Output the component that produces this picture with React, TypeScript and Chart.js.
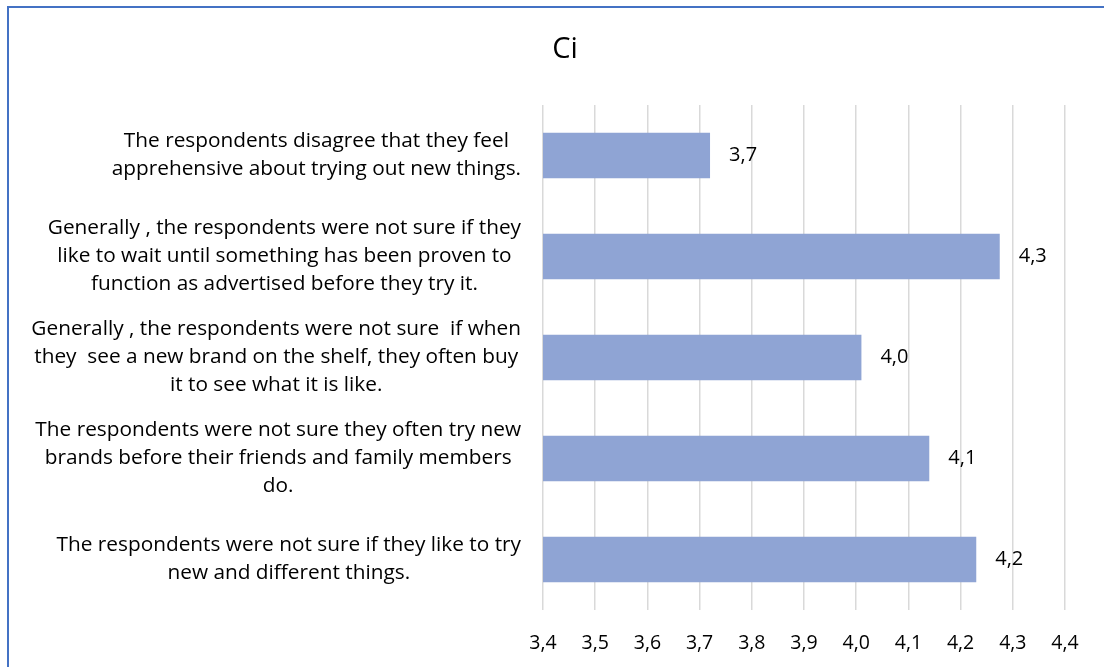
import React, { useEffect, useRef } from "react";
import { Chart, registerables } from "chart.js";

Chart.register(...registerables);

// Survey statements (top to bottom), pre-wrapped the way they are displayed
const categories: string[][] = [
  ["The respondents disagree that they feel", "apprehensive about trying out new things."],
  [
    "Generally , the respondents were not sure if they",
    "like to wait until something has been proven to",
    "function as advertised before they try it.",
  ],
  [
    "Generally , the respondents were not sure  if when",
    "they  see a new brand on the shelf, they often buy",
    "it to see what it is like.",
  ],
  [
    "The respondents were not sure they often try new",
    "brands before their friends and family members",
    "do.",
  ],
  ["The respondents were not sure if they like to try", "new and different things."],
];

// Mean agreement score per statement
const meanScores: number[] = [3.72, 4.275, 4.01, 4.14, 4.23];

// Value axis tick labels (decimal comma)
const xTickLabels: string[] = ["3,4", "3,5", "3,6", "3,7", "3,8", "3,9", "4,0", "4,1", "4,2", "4,3", "4,4"];

const chartTitle = "Ci";

const FONT = "'Open Sans', 'Noto Sans', sans-serif";
const CANVAS_W = 1112;
const CANVAS_H = 680;
const SIDE_PAD = 56;

const fmt = (v: number) => v.toFixed(1).replace(".", ",");

// Draws the wrapped statement labels, each block centred on its widest line
const statementLabels = {
  id: "statementLabels",
  afterDraw(chart: any) {
    const yScale = chart.scales.y;
    const ctx = chart.ctx;
    const rightX = chart.chartArea.left - 22;
    const lineH = 28;
    ctx.save();
    ctx.font = `20.8px ${FONT}`;
    ctx.fillStyle = "#000000";
    ctx.textAlign = "center";
    ctx.textBaseline = "middle";
    categories.forEach((lines, i) => {
      const cy = yScale.getPixelForValue(i);
      const widest = Math.max(...lines.map((l) => ctx.measureText(l).width));
      const cx = rightX - widest / 2;
      const y0 = cy - ((lines.length - 1) * lineH) / 2;
      lines.forEach((l, j) => ctx.fillText(l, cx, y0 + j * lineH));
    });
    ctx.restore();
  },
};

// Value labels to the right of each bar
const valueLabels = {
  id: "valueLabels",
  afterDatasetsDraw(chart: any) {
    const ctx = chart.ctx;
    const meta = chart.getDatasetMeta(0);
    ctx.save();
    ctx.font = `20px ${FONT}`;
    ctx.fillStyle = "#000000";
    ctx.textAlign = "left";
    ctx.textBaseline = "middle";
    meta.data.forEach((bar: any, i: number) => {
      ctx.fillText(fmt(meanScores[i]), bar.x + 19, bar.y);
    });
    ctx.restore();
  },
};

export default function App() {
  const canvasRef = useRef<HTMLCanvasElement | null>(null);

  useEffect(() => {
    const canvas = canvasRef.current;
    if (!canvas) return;
    const chart = new Chart(canvas, {
      type: "bar",
      data: {
        labels: categories.map((c) => c.join(" ")),
        datasets: [
          {
            data: meanScores,
            backgroundColor: "#8FA4D4",
            borderWidth: 0,
            categoryPercentage: 1,
            barPercentage: 0.45,
          },
        ],
      },
      options: {
        indexAxis: "y",
        responsive: false,
        animation: false,
        devicePixelRatio: 1,
        layout: { padding: { left: SIDE_PAD, right: SIDE_PAD, top: 0, bottom: 0 } },
        plugins: {
          legend: { display: false },
          tooltip: { enabled: false },
          title: {
            display: true,
            text: chartTitle,
            color: "#000000",
            font: { family: FONT, size: 29, weight: "normal" },
            padding: { top: 24.6, bottom: 37.6 },
          },
        },
        scales: {
          x: {
            type: "linear",
            min: 3.4,
            max: 4.4,
            afterFit: (s: any) => {
              s.height = 78;
            },
            afterBuildTicks: (s: any) => {
              s.ticks = xTickLabels.map((_, i) => ({ value: 3.4 + i * 0.1 }));
            },
            ticks: {
              padding: 22,
              color: "#000000",
              font: { family: FONT, size: 19.5 },
              maxRotation: 0,
              autoSkip: false,
              callback: (_v: any, i: number) => xTickLabels[i],
            },
            grid: { color: "#D9D9D9", lineWidth: 1.5, drawTicks: false },
            border: { display: false },
          },
          y: {
            afterFit: (s: any) => {
              s.width = 534 - SIDE_PAD;
            },
            ticks: { display: false },
            grid: { display: false, drawTicks: false },
            border: { display: false },
          },
        },
      },
      plugins: [statementLabels, valueLabels],
    });
    return () => chart.destroy();
  }, []);

  return (
    <div
      style={{
        position: "fixed",
        left: 0,
        top: 0,
        width: 1104,
        height: 667,
        overflow: "hidden",
        background: "#ffffff",
      }}
    >
      <div
        style={{
          position: "absolute",
          left: 7,
          top: 6,
          width: CANVAS_W,
          height: CANVAS_H,
          border: "2px solid #4472C4",
          background: "#ffffff",
        }}
      >
        <canvas
          ref={canvasRef}
          width={CANVAS_W}
          height={CANVAS_H}
          style={{ display: "block", width: CANVAS_W, height: CANVAS_H }}
        />
      </div>
    </div>
  );
}
